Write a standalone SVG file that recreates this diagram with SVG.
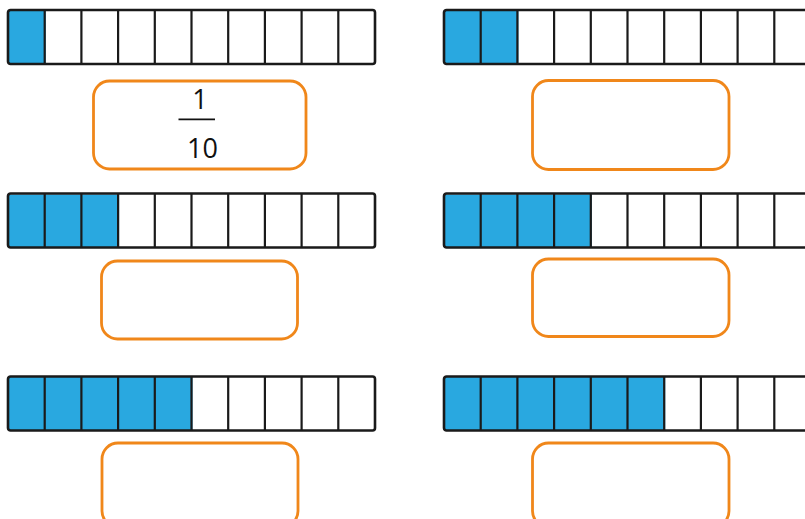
<svg xmlns="http://www.w3.org/2000/svg" width="805" height="519" viewBox="0 0 805 519">
<defs>
<style>
.bar{fill:none;stroke:#1a1a1a;stroke-width:2.6}
.fill{fill:#29a8e0}
.div{stroke:#1a1a1a;stroke-width:2.2}
.box{fill:#ffffff;stroke:#f0871a;stroke-width:2.8}
.num{font-family:"Open Sans","Noto Sans",sans-serif;font-size:27px;fill:#111111;text-anchor:middle}
</style>
<g id="cells">
<rect class="bar" x="0" y="0" width="367" height="54" rx="2.5"/>
<path class="div" d="M36.7 0V54M73.4 0V54M110.1 0V54M146.8 0V54M183.5 0V54M220.2 0V54M256.9 0V54M293.6 0V54M330.3 0V54"/>
</g>
</defs>
<rect width="805" height="519" fill="#ffffff"/>

<g id="bar1">
<rect class="fill" x="9" y="11" width="36.7" height="52"/>
<use href="#cells" x="8" y="10"/>
</g>
<g id="box1">
<rect class="box" x="93.5" y="81" width="212.5" height="88" rx="16"/>
<text class="num" x="200" y="109">1</text>
<line x1="178.5" y1="119.3" x2="215" y2="119.3" stroke="#111111" stroke-width="1.8"/>
<text class="num" x="202.5" y="158">10</text>
</g>

<g id="bar2">
<rect class="fill" x="445" y="11" width="73.4" height="52"/>
<use href="#cells" x="444" y="10"/>
</g>
<g id="box2">
<rect class="box" x="532.5" y="80.5" width="196.5" height="89" rx="16"/>
</g>

<g id="bar3">
<rect class="fill" x="9" y="194.5" width="110.1" height="52.5"/>
<use href="#cells" x="8" y="193.5"/>
</g>
<g id="box3">
<rect class="box" x="101.5" y="261" width="196" height="78" rx="16"/>
</g>

<g id="bar4">
<rect class="fill" x="445" y="194.5" width="146.8" height="52.5"/>
<use href="#cells" x="444" y="193.5"/>
</g>
<g id="box4">
<rect class="box" x="532.5" y="259" width="196.5" height="77.5" rx="16"/>
</g>

<g id="bar5">
<rect class="fill" x="9" y="377" width="183.5" height="53"/>
<use href="#cells" x="8" y="376.5"/>
</g>
<g id="box5">
<rect class="box" x="102" y="443" width="196" height="84" rx="16"/>
</g>

<g id="bar6">
<rect class="fill" x="445" y="377" width="220.2" height="53"/>
<use href="#cells" x="444" y="376.5"/>
</g>
<g id="box6">
<rect class="box" x="532.5" y="443" width="196.5" height="84" rx="16"/>
</g>

<g id="connectors"></g>
</svg>
